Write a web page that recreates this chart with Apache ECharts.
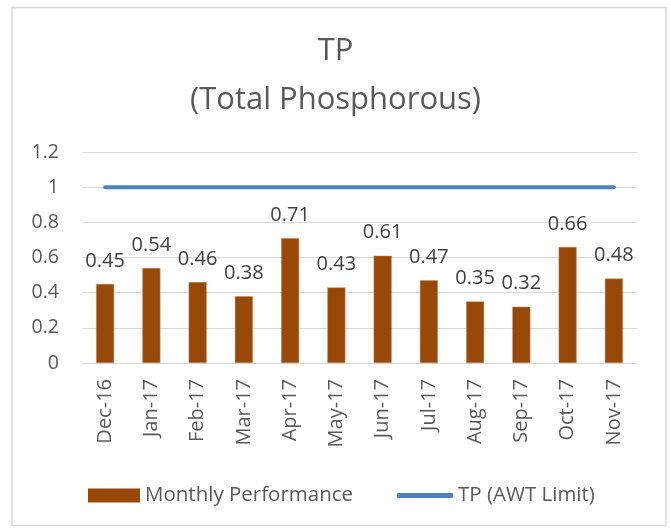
<!DOCTYPE html>
<html><head><meta charset="utf-8">
<script src="https://cdn.jsdelivr.net/npm/echarts@6/dist/echarts.min.js"></script>
<style>html,body{margin:0;padding:0;background:#fff}#c{width:671px;height:529px}</style>
</head><body><div id="c"></div>
<script>
const categories = ['Dec-16','Jan-17','Feb-17','Mar-17','Apr-17','May-17','Jun-17','Jul-17','Aug-17','Sep-17','Oct-17','Nov-17'];
const monthlyPerformance = [0.45,0.54,0.46,0.38,0.71,0.43,0.61,0.47,0.35,0.32,0.66,0.48];
const awtLimit = [1,1,1,1,1,1,1,1,1,1,1,1];
const yTicks = {min:0, max:1.2, interval:0.2};
const FONT = 'Open Sans';
const chart = echarts.init(document.getElementById('c'));
chart.setOption({
  animation:false,
  textStyle:{fontFamily:FONT},
  graphic:[{type:'rect',shape:{x:12,y:7.5,width:654,height:518},style:{fill:'none',stroke:'#d9d9d9',lineWidth:1.5},z:-1}],
  title:[
    {text:'TP',left:'center',top:31,textStyle:{fontFamily:FONT,fontSize:31,fontWeight:'normal',color:'#595959'}},
    {text:'(Total Phosphorous)',left:'center',top:80,textStyle:{fontFamily:FONT,fontSize:31,fontWeight:'normal',color:'#595959'}}
  ],
  grid:{left:82,right:34,top:152,bottom:166},
  legend:[
    {left:83,top:480,itemWidth:52,itemHeight:14,padding:5,
      textStyle:{fontFamily:FONT,fontSize:20.5,color:'#595959'},
      data:[{name:'Monthly Performance',icon:'rect',itemStyle:{borderWidth:0}}]},
    {left:392,top:480,itemWidth:56,itemHeight:5,padding:5,
      textStyle:{fontFamily:FONT,fontSize:20.5,color:'#595959'},
      data:[{name:'TP (AWT Limit)',icon:'roundRect'}]}
  ],
  xAxis:{type:'category',data:categories,boundaryGap:true,
    axisLine:{lineStyle:{color:'#d9d9d9'}},axisTick:{show:false},
    axisLabel:{rotate:90,fontFamily:FONT,fontSize:20,color:'#595959',margin:16}},
  yAxis:{type:'value',min:yTicks.min,max:yTicks.max,interval:yTicks.interval,
    axisLine:{show:false},axisTick:{show:false},
    axisLabel:{fontFamily:FONT,fontSize:19.5,color:'#595959',margin:23},
    splitLine:{lineStyle:{color:'#d9d9d9',width:1}}},
  series:[
    {name:'Monthly Performance',type:'bar',data:monthlyPerformance,barWidth:18,
      itemStyle:{color:'#984807',borderColor:'#c08a5c',borderWidth:0.5},
      label:{show:true,position:'top',distance:13,fontFamily:FONT,fontSize:20,color:'#404040'}},
    {name:'TP (AWT Limit)',type:'line',data:awtLimit,symbol:'none',
      lineStyle:{color:'#4f81bd',width:4,cap:'round'},itemStyle:{color:'#4f81bd'}}
  ]
});
</script></body></html>
